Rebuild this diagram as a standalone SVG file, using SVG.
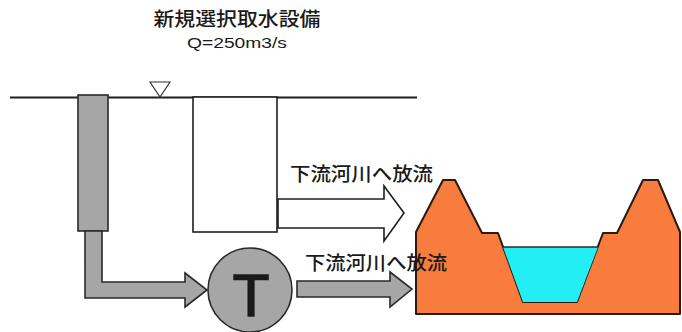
<svg xmlns="http://www.w3.org/2000/svg" width="682" height="332" viewBox="0 0 682 332">
  <style>
    .ln { fill: none; stroke: #1e1e1e; stroke-width: 2; }
    .gray { fill: #a6a6a6; stroke: #2a2a2a; stroke-width: 1.6; stroke-linejoin: miter; }
    .white { fill: #ffffff; stroke: #1e1e1e; stroke-width: 1.6; }
    .jp { font-family: "Noto Sans CJK JP", "Noto Sans", sans-serif; font-weight: 500; fill: #1a1a1a; }
    .lat { font-family: "Liberation Sans", Arial, sans-serif; fill: #1a1a1a; }
  </style>

  <!-- heading -->
  <g id="title">
    <text class="jp" x="237" y="26" font-size="19" text-anchor="middle" textLength="167" lengthAdjust="spacingAndGlyphs">新規選択取水設備</text>
    <text class="lat" x="237" y="48" font-size="15" text-anchor="middle" textLength="100" lengthAdjust="spacingAndGlyphs">Q=250m3/s</text>
  </g>

  <!-- reservoir surface and level mark -->
  <g id="water-level">
    <line class="ln" x1="10" y1="97.5" x2="417" y2="97.5"/>
    <polygon points="150,82 170,82 160,97" fill="#ffffff" stroke="#333" stroke-width="1.2"/>
  </g>

  <!-- intake tower (gray column) -->
  <g id="intake-tower">
    <rect class="gray" x="78" y="95" width="30" height="136"/>
  </g>

  <!-- selective intake facility -->
  <g id="intake-facility">
    <rect class="white" x="193" y="97" width="84" height="135"/>
  </g>

  <!-- turbine -->
  <g id="turbine">
    <circle class="gray" cx="250" cy="290" r="42"/>
    <text class="lat" x="251" y="316" font-size="60" text-anchor="middle" stroke="#1a1a1a" stroke-width="1.6">T</text>
  </g>

  <!-- river channel cross-section -->
  <g id="river">
    <polygon points="416,314 416,232 443,180 455,180 482,233 498,233 523,302 577,302 603,233 617,233 643,180 658,180 680,232 680,314" fill="#f77c3d" stroke="#2a1a10" stroke-width="2" stroke-linejoin="round"/>
    <polygon points="503,247 598,247 577,302 523,302" fill="#22eef3" stroke="none"/>
    <line x1="503" y1="247" x2="598" y2="247" stroke="#2a2a2a" stroke-width="1.6"/>
  </g>

  <!-- flow arrows -->
  <g id="connectors">
    <polygon class="white" points="278,199 384,199 384,186 404,213 384,241 384,228 278,228"/>
    <polygon class="gray" points="85,231 102,231 102,282 185,282 185,273 207,290 185,307 185,298 85,298"/>
    <polygon class="gray" points="297,281 390,281 390,272 412,289 390,307 390,297 297,297"/>
  </g>

  <!-- discharge labels -->
  <g id="labels">
    <text class="jp" x="290" y="181" font-size="19" textLength="143" lengthAdjust="spacingAndGlyphs">下流河川へ放流</text>
    <text class="jp" x="305" y="270" font-size="19" textLength="142" lengthAdjust="spacingAndGlyphs">下流河川へ放流</text>
  </g>
</svg>
